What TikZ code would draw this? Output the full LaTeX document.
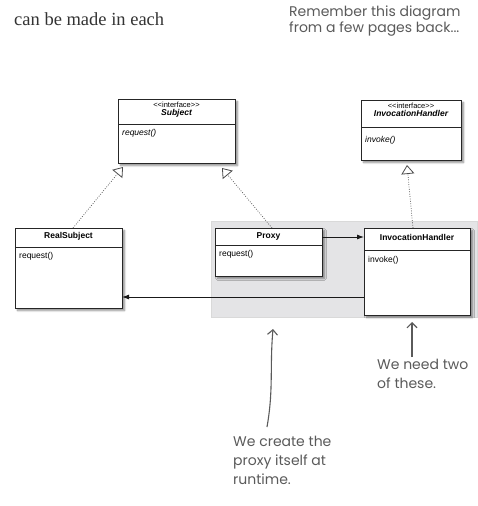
\documentclass[tikz,border=0pt]{standalone}
\usepackage{fontspec}
\setmainfont{Liberation Serif}
\newfontfamily\umlfont{Liberation Sans}
\newfontfamily\handfont{Poppins}
\usetikzlibrary{arrows.meta,positioning,shadows.blur}
\definecolor{pencil}{HTML}{5A5A5A}
\definecolor{runbg}{HTML}{E4E4E6}

\begin{document}
\begin{tikzpicture}[x=1pt, y=-1pt,
  cls/.style={draw=black!85, line width=0.8pt, fill=white, inner sep=0pt, outer sep=0pt,
    blur shadow={shadow xshift=2.5pt, shadow yshift=-2.5pt, shadow blur steps=6, shadow opacity=45}},
  stereo/.style={font=\umlfont\fontsize{7.5}{8.5}\selectfont, inner sep=0pt},
  title/.style={font=\umlfont\bfseries\fontsize{8.5}{10}\selectfont, inner sep=0pt},
  op/.style={font=\umlfont\fontsize{8.5}{10}\selectfont, anchor=north west, inner sep=0pt},
  divider/.style={draw=black!85, line width=0.6pt},
  realize/.style={dash pattern=on 0.8pt off 1.6pt, black!70, line width=0.7pt,
    -{Triangle[open, length=9pt, width=13pt, line width=0.8pt]}},
  assoc/.style={-{Latex[length=7pt, width=5pt]}, line width=0.9pt, black!90},
  note/.style={font=\handfont\fontsize{14}{19}\selectfont, text=pencil, align=left, anchor=north west, inner sep=0pt},
  hand/.style={-{Straight Barb[length=5pt, width=10pt]}, pencil, line width=1.1pt}
]
\useasboundingbox (0,0) rectangle (478,506);

% --- page text -------------------------------------------------------------
\node[anchor=west, inner sep=0pt, font=\fontsize{18.5}{20}\selectfont, text=black!80] (prose) at (14,19) {can be made in each};
\node[note, font=\handfont\fontsize{14}{14}\selectfont] (remember) at (289,6) {Remember this diagram\\from a few pages back...};

% --- runtime area ----------------------------------------------------------
\node[fill=runbg, draw=black!15, minimum width=266pt, minimum height=96pt, inner sep=0pt] (runtime) at (344,269) {};

% --- interfaces ------------------------------------------------------------
\node[cls, minimum width=117pt, minimum height=64pt] (subj) at (176.5,131) {};
\node[stereo, below=3pt of subj.north] (subjst) {<{}<interface>{}>};
\node[title, below=1pt of subjst] {\itshape Subject};
\draw[divider] ([yshift=-25pt]subj.north west) -- ([yshift=-25pt]subj.north east);
\node[op] at ([xshift=4pt, yshift=-30pt]subj.north west) {\itshape request()};

\node[cls, minimum width=100pt, minimum height=60pt] (ihint) at (411,130) {};
\node[stereo, below=3pt of ihint.north] (ihintst) {<{}<interface>{}>};
\node[title, below=1pt of ihintst] {\itshape InvocationHandler};
\draw[divider] ([yshift=-27pt]ihint.north west) -- ([yshift=-27pt]ihint.north east);
\node[op] at ([xshift=4pt, yshift=-36pt]ihint.north west) {\itshape invoke()};

% --- classes ---------------------------------------------------------------
\node[cls, minimum width=107pt, minimum height=80pt] (real) at (68.5,268) {};
\node[title, below=4pt of real.north] {RealSubject};
\draw[divider] ([yshift=-19pt]real.north west) -- ([yshift=-19pt]real.north east);
\node[op] at ([xshift=4pt, yshift=-24pt]real.north west) {request()};

\node[cls, minimum width=107pt, minimum height=48pt] (proxy) at (268.5,252) {};
\node[title, below=4pt of proxy.north] {Proxy};
\draw[divider] ([yshift=-17pt]proxy.north west) -- ([yshift=-17pt]proxy.north east);
\node[op] at ([xshift=4pt, yshift=-22pt]proxy.north west) {request()};

\node[cls, minimum width=106pt, minimum height=87pt] (ih) at (417,271.5) {};
\node[title, below=6pt of ih.north] {InvocationHandler};
\draw[divider] ([yshift=-22pt]ih.north west) -- ([yshift=-22pt]ih.north east);
\node[op] at ([xshift=4pt, yshift=-28pt]ih.north west) {invoke()};

% --- relations -------------------------------------------------------------
\coordinate (subjL) at (123,167);
\coordinate (subjR) at (222,168);
\draw[realize] ([xshift=4.5pt]real.north) -- (subjL);
\draw[realize] ([xshift=3.5pt]proxy.north) -- (subjR);
\draw[realize] ([xshift=-4pt]ih.north) -- ([xshift=-4pt, yshift=-5pt]ihint.south);

\draw[assoc] ([yshift=-9pt]proxy.north east) -- ([yshift=-9pt]proxy.north east -| ih.west);
\draw[assoc] ([yshift=18pt]ih.south west) -- ([yshift=18pt]ih.south west -| real.east);

% --- notes -----------------------------------------------------------------
\node[note] (two) at (377,359) {We need two\\of these.};
\node[note] (create) at (233,436) {We create the\\proxy itself at\\runtime.};

\coordinate (twotip) at (412,322);
\coordinate (createtip) at (273,329);
\draw[hand] ([xshift=35pt, yshift=2pt]two.north west) -- (twotip);
\draw[hand] ([xshift=34pt, yshift=9pt]create.north west) to[out=80, in=-95] (createtip);

\end{tikzpicture}
\end{document}
